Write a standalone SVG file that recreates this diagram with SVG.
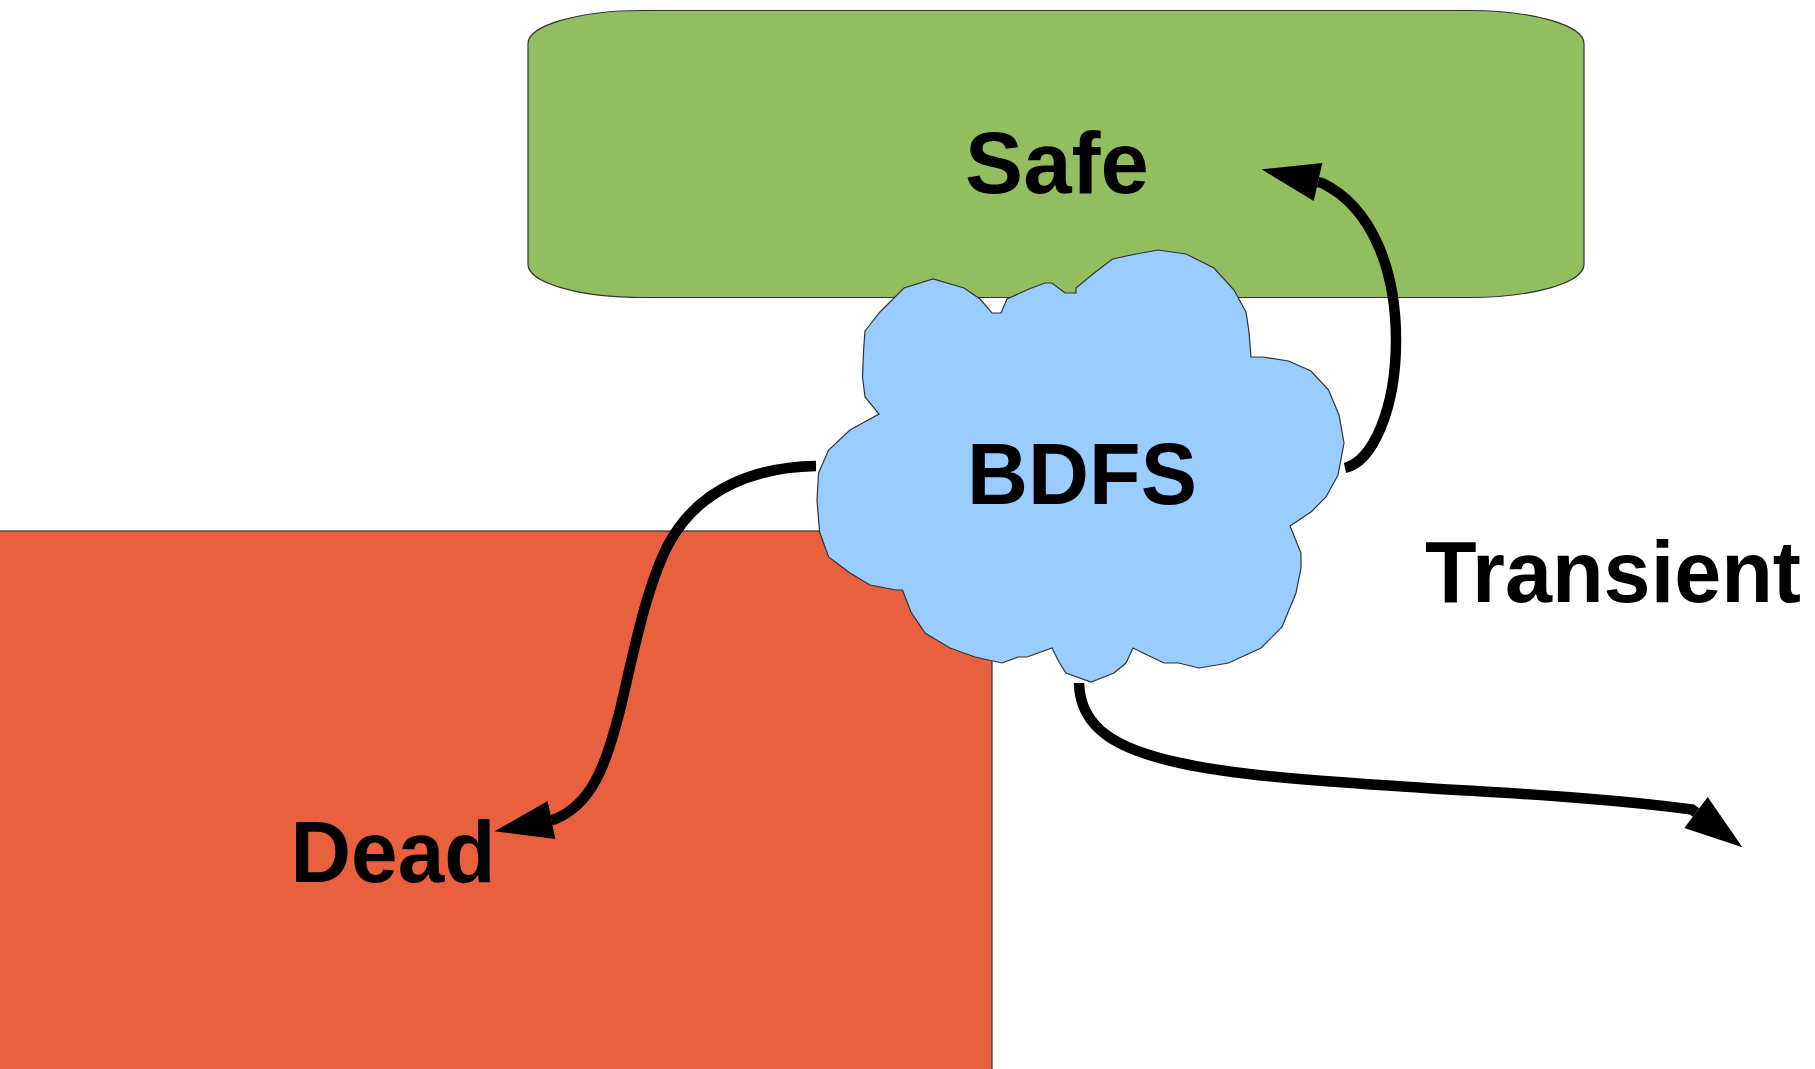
<svg xmlns="http://www.w3.org/2000/svg" width="1815" height="1069" viewBox="0 0 1815 1069">
<style>
.lbl{font-family:"Liberation Sans",Arial,sans-serif;font-weight:bold;font-size:87px;fill:#000;text-anchor:middle}
.shape{stroke:#333;stroke-width:1.2}
.conn{fill:none;stroke:#000;stroke-width:10.5;stroke-linejoin:round;marker-end:url(#ah)}
</style>
<defs>
<marker id="ah" markerUnits="userSpaceOnUse" markerWidth="60" markerHeight="40" refX="0" refY="19.5" orient="auto" overflow="visible">
<path d="M0,0 L58,19.5 L0,39 Z" fill="#000"/>
</marker>
</defs>
<rect width="1815" height="1069" fill="#fff"/>
<g id="safe">
<rect class="shape" x="528" y="10.5" width="1056" height="287" rx="115" ry="33" fill="#93be60"/>
<text class="lbl" x="1057" y="193">Safe</text>
</g>
<g id="dead">
<rect class="shape" x="-5" y="531" width="997" height="600" fill="#e9603f"/>
<text class="lbl" x="393" y="882" textLength="205" lengthAdjust="spacingAndGlyphs">Dead</text>
</g>
<g id="transient">
<text class="lbl" x="1613" y="602" textLength="376" lengthAdjust="spacingAndGlyphs">Transient</text>
</g>
<g id="bdfs">
<path class="shape" fill="#99ccff" d="M865,331 L880,312 L904,288 L933,279 L964,288 L980,299 L992,313 L1001,313 L1007,299 L1029,289 L1045,283 L1052,283 L1065,293 L1076,293 L1076,288 L1093,274 L1112.5,259 L1136,254 L1158,250 L1186,254 L1214,268 L1234,290 L1246,312 L1249,332 L1251,357 L1262.5,357 L1288.6,361 L1311,371 L1328.6,390 L1339,415 L1344,443 L1338,475 L1326,497 L1311,512 L1290,526 L1301,553 L1301,568 L1296,593 L1282,627 L1261,648 L1228.6,663 L1199,668 L1178.6,663 L1164,663 L1143,653 L1133,648 L1126,663 L1114,673 L1091,682 L1066,673 L1059,662 L1052,648 L1027,657 L1018,657 L1002,663 L975,657 L950,648 L925,633 L911,612 L902.5,590 L896,590 L870,585 L850,573 L828.6,557 L819.6,532 L817,500 L818.6,473 L828.6,450 L850,430 L879,414 L865,397 L862.5,377 L863.6,350 Z"/>
<text class="lbl" x="1082" y="504" textLength="230" lengthAdjust="spacingAndGlyphs">BDFS</text>
</g>
<g id="connectors">
<path class="conn" d="M1345,468 C1372,462 1396,410 1396,340 C1396,270 1372,207 1322,183 l-4,-0.9"/>
<path class="conn" d="M816,466 C760,467 700,485 668,545 C645,590 632,660 620,710 C605,770 590,805 554.5,819.4 l-3,0.6"/>
<path class="conn" d="M1079,683 C1080,730 1120,750 1180,763 C1230,774 1300,780 1410,787 C1500,793 1600,797 1692,809.5 l4,3"/>
</g>
</svg>
